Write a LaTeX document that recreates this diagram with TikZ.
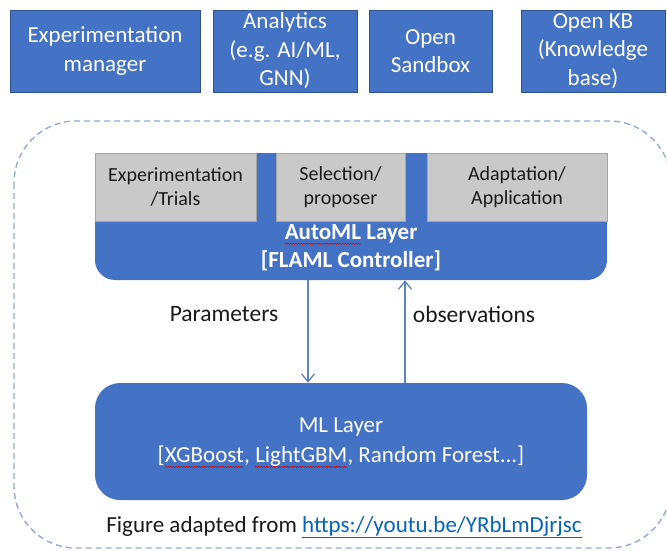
\documentclass[tikz,border=0pt]{standalone}
\usepackage{fontspec}
\setmainfont{Carlito}
\usetikzlibrary{arrows.meta,decorations.pathmorphing}
\definecolor{obl}{HTML}{4472C4}
\definecolor{obd}{HTML}{2F528F}
\definecolor{gbox}{HTML}{C9C9C9}
\definecolor{gbd}{HTML}{A5A5A5}
\definecolor{dsh}{HTML}{8FAADC}
\definecolor{lnk}{HTML}{0563C1}
\definecolor{arrc}{HTML}{5B82CB}
\newcommand\redsquig[1]{\tikz[baseline=(sq.base),x=1pt,y=1pt]{\node[inner sep=0pt,outer sep=0pt,anchor=base] (sq) {#1};
  \draw[red!85!black, line width=0.45pt, decorate, decoration={snake, amplitude=0.7pt, segment length=2.6pt}] ([yshift=-4pt]sq.base west) -- ([yshift=-4pt]sq.base east);}}
\tikzset{
  topbox/.style={draw=obd, line width=0.8pt, fill=obl, text=white, align=center,
    font=\fontsize{23}{28.5}\selectfont, inner sep=0pt, minimum height=82pt},
  graybox/.style={draw=gbd, line width=0.6pt, fill=gbox, text=black!90, align=center,
    font=\fontsize{20}{24}\selectfont, inner sep=0pt, minimum height=68pt},
  conn/.style={draw=arrc, line width=1.3pt, -{Straight Barb[length=8pt,width=13pt,line width=1.3pt]}},
  lbl/.style={text=black!90, font=\fontsize{23.5}{27}\selectfont, inner sep=0pt},
}
\begin{document}
\begin{tikzpicture}[x=1pt,y=-1pt]
\useasboundingbox (0,0) rectangle (667,551);
% top boxes
\node[topbox, minimum width=190pt] (em) at (105,51) {Experimentation\\manager};
\node[topbox, minimum width=144pt] (an) at (285,51) {Analytics\\(e.g. AI/ML,\\GNN)};
\node[topbox, minimum width=123pt] (sb) at (430.5,51) {Open\\Sandbox};
\node[topbox, minimum width=144pt] (kb) at (593,51) {Open KB\\(Knowledge\\base)};
% dashed outline
\draw[dsh, line width=1.4pt, dash pattern=on 6pt off 4pt, rounded corners=62pt] (14,121) rectangle (671,548);
% AutoML layer
\node[fill=obl, rounded corners=20pt, minimum width=512pt, minimum height=127pt, inner sep=0pt] (auto) at (351,216.5) {};
\node[graybox, minimum width=161pt] (exp) at (175.5,187) {Experimentation\\/Trials};
\node[graybox, minimum width=129pt] (sel) at (340.5,187) {Selection/\\proposer};
\node[graybox, minimum width=180pt] (ada) at (517,187) {Adaptation/\\Application};
\node[text=white, align=center, font=\bfseries\fontsize{23}{28}\selectfont, inner sep=0pt] (autotxt) at (351,248) {\redsquig{AutoML} Layer\\\relax[FLAML Controller]};
% ML layer
\node[fill=obl, rounded corners=25pt, minimum width=492pt, minimum height=117pt, inner sep=0pt] (ml) at (341,441.5) {};
\node[text=white, align=center, font=\fontsize{23}{30}\selectfont, inner sep=0pt] (mltxt) at (341,443) {ML Layer\\\relax[\redsquig{XGBoost}, \redsquig{LightGBM}, Random Forest...]};
% connectors
\draw[conn] ([xshift=-43pt]auto.south) -- ([xshift=-43pt]auto.south |- ml.north);
\draw[conn] ([xshift=54pt]auto.south |- ml.north) -- ([xshift=54pt]auto.south);
\node[lbl] (par) at (224,314) {Parameters};
\node[lbl] (obs) at (474,314) {observations};
% caption
\node[lbl, font=\fontsize{23}{27}\selectfont] (cap) at (344,527) {Figure adapted from \textcolor{lnk}{\underline{https://youtu.be/YRbLmDjrjsc}}};
\end{tikzpicture}
\end{document}
